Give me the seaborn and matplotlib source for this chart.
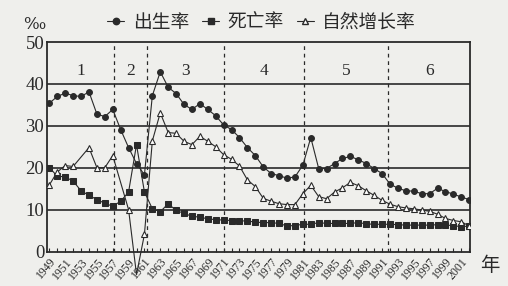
import numpy as np
import pandas as pd
import matplotlib
matplotlib.use("Agg")
import matplotlib.pyplot as plt
from matplotlib.lines import Line2D
import seaborn as sns

# ---------------- data ----------------
years = list(range(1949, 2003))
birth_rate = [35.4, 37.0, 37.8, 37.2, 37.0, 38.1, 32.8, 32.2, 33.9, 29.1,
              24.8, 21.0, 18.3, 37.2, 42.9, 39.2, 37.7, 35.1, 33.9, 35.3,
              33.9, 32.4, 30.2, 29.1, 27.2, 24.8, 22.9, 20.2, 18.6, 18.1,
              17.5, 17.8, 20.6, 27.2, 19.8, 19.8, 21.0, 22.2, 22.7, 21.9,
              21.0, 19.8, 18.6, 16.1, 15.1, 14.5, 14.4, 13.8, 13.8, 15.1,
              14.3, 13.7, 13.0, 12.4]
death_rate = [20.0, 18.0, 17.8, 16.8, 14.5, 13.4, 12.4, 11.5, 10.8, 12.0,
              14.2, 25.5, 14.2, 10.2, 9.5, 11.4, 9.8, 9.1, 8.4, 8.2,
              7.8, 7.6, 7.5, 7.4, 7.3, 7.3, 7.0, 6.9, 6.9, 6.7,
              6.1, 6.2, 6.5, 6.5, 6.9, 6.7, 6.7, 6.7, 6.7, 6.9,
              6.6, 6.5, 6.5, 6.5, 6.4, 6.3, 6.3, 6.3, 6.3, 6.4,
              6.3, 6.2, 5.9, 6.1]
growth_rate = [15.9, 19.0, 20.5, 20.3, np.nan, 24.8, 20.0, 20.0, 22.9, np.nan,
               10.0, -5.5, 4.1, 26.4, 33.1, 28.4, 28.2, 26.3, 25.5, 27.5,
               26.3, 25.0, 23.1, 22.0, 20.4, 17.1, 15.5, 12.7, 12.0, 11.4,
               11.2, 11.2, 13.8, 15.8, 13.1, 12.6, 14.2, 15.2, 16.5, 15.7,
               14.5, 13.4, 12.2, 11.3, 10.7, 10.4, 10.2, 9.9, 9.6, 8.9,
               7.9, 7.4, 7.1, 6.1]
series_names = ["出生率", "死亡率", "自然增长率"]
tick_years = list(range(1949, 2002, 2))
y_ticks = [0, 10, 20, 30, 40, 50]
period_labels = ["1", "2", "3", "4", "5", "6"]
period_bounds = [1957.1, 1961.3, 1971.0, 1981.2, 1991.8]

df = pd.DataFrame({"year": years, "birth": birth_rate,
                   "death": death_rate, "growth": growth_rate})
dg = df[["year", "growth"]].dropna()

# ---------------- style ----------------
sns.set_theme(style="white")
plt.rcParams["font.family"] = ["Noto Sans CJK SC", "DejaVu Sans"]
ink = "#2a2a2a"
paper = "#efefec"

fig = plt.figure(figsize=(5.08, 2.86), dpi=100, facecolor=paper)
ax = fig.add_axes([0.0925, 0.1206, 0.8327, 0.7325])
ax.set_facecolor(paper)

lw = 0.8
# birth
sns.lineplot(data=df, x="year", y="birth", ax=ax, color=ink, lw=lw,
             marker="o", markersize=4.2, markeredgecolor=ink,
             markerfacecolor=ink, zorder=4)
# death
sns.lineplot(data=df, x="year", y="death", ax=ax, color=ink, lw=lw,
             marker="s", markersize=4.4, markeredgecolor=ink,
             markerfacecolor=ink, zorder=4)
# growth line (allowed to run below the axis) and its markers (clipped)
sns.lineplot(data=dg, x="year", y="growth", ax=ax, color=ink, lw=lw, zorder=4)
ax.lines[-1].set_clip_on(False)
sns.lineplot(data=dg, x="year", y="growth", ax=ax, color=ink, lw=0,
             marker="^", markersize=4.8, markeredgecolor=ink,
             markerfacecolor="white", markeredgewidth=0.8, zorder=5)

# axes setup
ax.set_xlim(1948.7, 2002.1)
ax.set_ylim(0, 50)
ax.set_xlabel("")
ax.set_ylabel("")
for s in ax.spines.values():
    s.set_color(ink)
    s.set_linewidth(1.3)

for yv in y_ticks[1:-1]:
    ax.axhline(yv, color=ink, lw=1.2, zorder=2)
for xv in period_bounds:
    ax.axvline(xv, color=ink, lw=0.9, ls=(0, (3, 3)), zorder=2)

mids = [(a + b) / 2 for a, b in zip([1948.9] + period_bounds,
                                     period_bounds + [2002.2])]
for lab, xm in zip(period_labels, mids):
    ax.text(xm, 43.2, lab, ha="center", va="center", fontsize=12.5,
            family="Liberation Serif", color=ink)

ax.set_yticks(y_ticks)
ax.set_yticklabels([str(v) for v in y_ticks], family="Liberation Serif",
                   fontsize=13.5, color=ink)
ax.set_xticks(years, minor=True)
ax.set_xticks(tick_years)
ax.set_xticklabels([str(v) for v in tick_years], rotation=50, ha="right",
                   rotation_mode="anchor", family="Liberation Serif",
                   fontsize=8.5, color=ink)
ax.tick_params(axis="x", which="both", direction="in", length=3,
               width=0.8, color=ink, pad=3, bottom=True)
ax.tick_params(axis="y", direction="in", length=0, pad=2, left=True)

fig.text(0.068, 0.915, "‰", family="DejaVu Serif", fontsize=12,
         ha="center", va="center", color=ink)
fig.text(0.965, 0.072, "年", fontsize=14, ha="center", va="center",
         color=ink)

# legend
handles = [
    Line2D([], [], color=ink, lw=lw, marker="o", markersize=4.6,
           markerfacecolor=ink, markeredgecolor=ink),
    Line2D([], [], color=ink, lw=lw, marker="s", markersize=4.8,
           markerfacecolor=ink, markeredgecolor=ink),
    Line2D([], [], color=ink, lw=lw, marker="^", markersize=5.0,
           markerfacecolor="white", markeredgecolor=ink),
]
leg = fig.legend(handles, series_names, loc="center",
                 bbox_to_anchor=(0.515, 0.922), ncol=3, frameon=False,
                 handlelength=0.9, handletextpad=0.45, columnspacing=0.7,
                 prop={"family": ["Noto Sans CJK SC", "DejaVu Sans"],
                       "size": 13.5})
for t in leg.get_texts():
    t.set_color(ink)

fig.savefig("out.png", dpi=100, facecolor=paper)
